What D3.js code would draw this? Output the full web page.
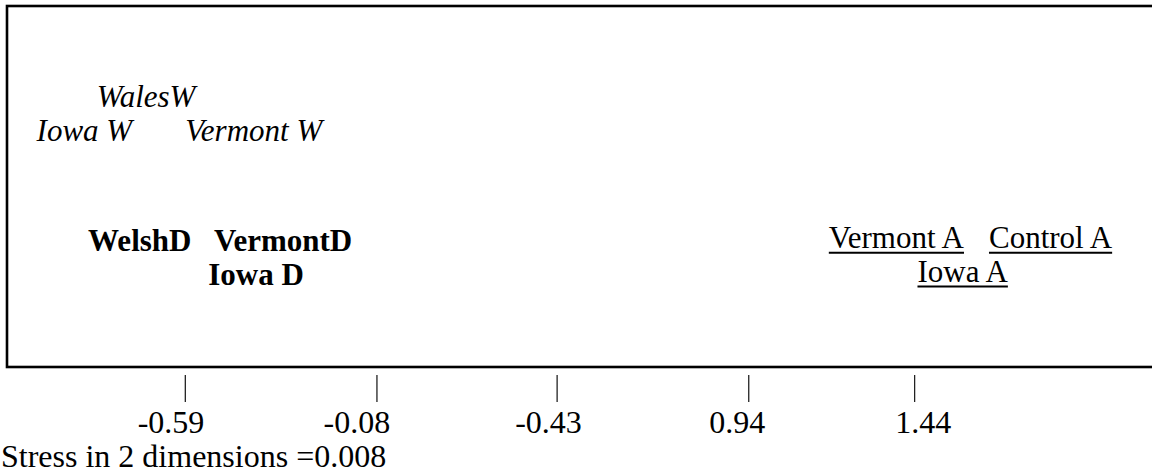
<!DOCTYPE html>
<html>
<head>
<meta charset="utf-8">
<script src="https://cdn.jsdelivr.net/npm/d3@7"></script>
<style>
  body { margin: 0; background: #fff; }
  text { font-family: 'Liberation Serif', 'Times New Roman', serif; fill: #000; }
</style>
</head>
<body>
<script>
// labels of the configuration, in plot units
const labels = ['WalesW', 'Iowa W', 'Vermont W', 'WelshD', 'VermontD', 'Iowa D', 'Vermont A', 'Control A', 'Iowa A'];
const dim1 = [-1.69, -1.90, -1.38, -1.72, -1.28, -1.30, 0.87, 1.43, 1.18];
const dim2 = [0.66, 0.38, 0.38, -0.54, -0.54, -0.82, -0.51, -0.51, -0.79];
const group = ['W', 'W', 'W', 'D', 'D', 'D', 'A', 'A', 'A'];

// axis marks along the bottom
const tickPos = [-1.38, -0.71, -0.08, 0.59, 1.17];
const tickLabelPos = [-1.43, -0.78, -0.11, 0.55, 1.20];
const tickLabels = ['-0.59', '-0.08', '-0.43', '0.94', '1.44'];
const stress = 'Stress in 2 dimensions =0.008';

const width = 1152;
const height = 474;
const box = { left: 7, top: 6, bottom: 367 };

const x = d3.scaleLinear().domain([-2, 2]).range([8, 1152]);
const y = d3.scaleLinear().domain([-1.5, 1.5]).range([box.bottom, box.top]);

const svg = d3.select('body').append('svg')
  .attr('width', width)
  .attr('height', height);

svg.append('rect')
  .attr('x', box.left)
  .attr('y', box.top)
  .attr('width', width + 20)
  .attr('height', box.bottom - box.top)
  .style('fill', 'none')
  .style('stroke', '#000')
  .style('stroke-width', 2.6);

const pts = labels.map((d, i) => ({
  name: d, x: dim1[i], y: dim2[i], g: group[i],
}));

const lab = svg.append('g').classed('labels', true);

lab.selectAll('text')
  .data(pts)
  .enter()
  .append('text')
  .attr('x', (d) => x(d.x))
  .attr('y', (d) => y(d.y))
  .style('font-size', '31px')
  .style('font-style', (d) => (d.g === 'W' ? 'italic' : 'normal'))
  .style('font-weight', (d) => (d.g === 'D' ? 'bold' : 'normal'))
  .text((d) => d.name)
  .each(function (d) { d.len = this.getComputedTextLength(); });

// underline the A group by hand, a bit lower and heavier than css does
lab.selectAll('line')
  .data(pts.filter((d) => d.g === 'A'))
  .enter()
  .append('line')
  .attr('x1', (d) => x(d.x))
  .attr('x2', (d) => x(d.x) + d.len)
  .attr('y1', (d) => y(d.y) + 5)
  .attr('y2', (d) => y(d.y) + 5)
  .style('stroke', '#000')
  .style('stroke-width', 2);

// ticks
svg.append('g').classed('ticks', true)
  .selectAll('line')
  .data(tickPos)
  .enter()
  .append('line')
  .attr('x1', (d) => x(d))
  .attr('x2', (d) => x(d))
  .attr('y1', 375)
  .attr('y2', 402)
  .style('stroke', '#222')
  .style('stroke-width', 1.3);

svg.append('g').classed('tick-labels', true)
  .selectAll('text')
  .data(tickLabels)
  .enter()
  .append('text')
  .attr('x', (d, i) => x(tickLabelPos[i]))
  .attr('y', 433)
  .attr('text-anchor', 'middle')
  .style('font-size', '32px')
  .text((d) => d);

svg.append('text')
  .attr('x', 1)
  .attr('y', 467)
  .style('font-size', '32px')
  .text(stress);
</script>
</body>
</html>
